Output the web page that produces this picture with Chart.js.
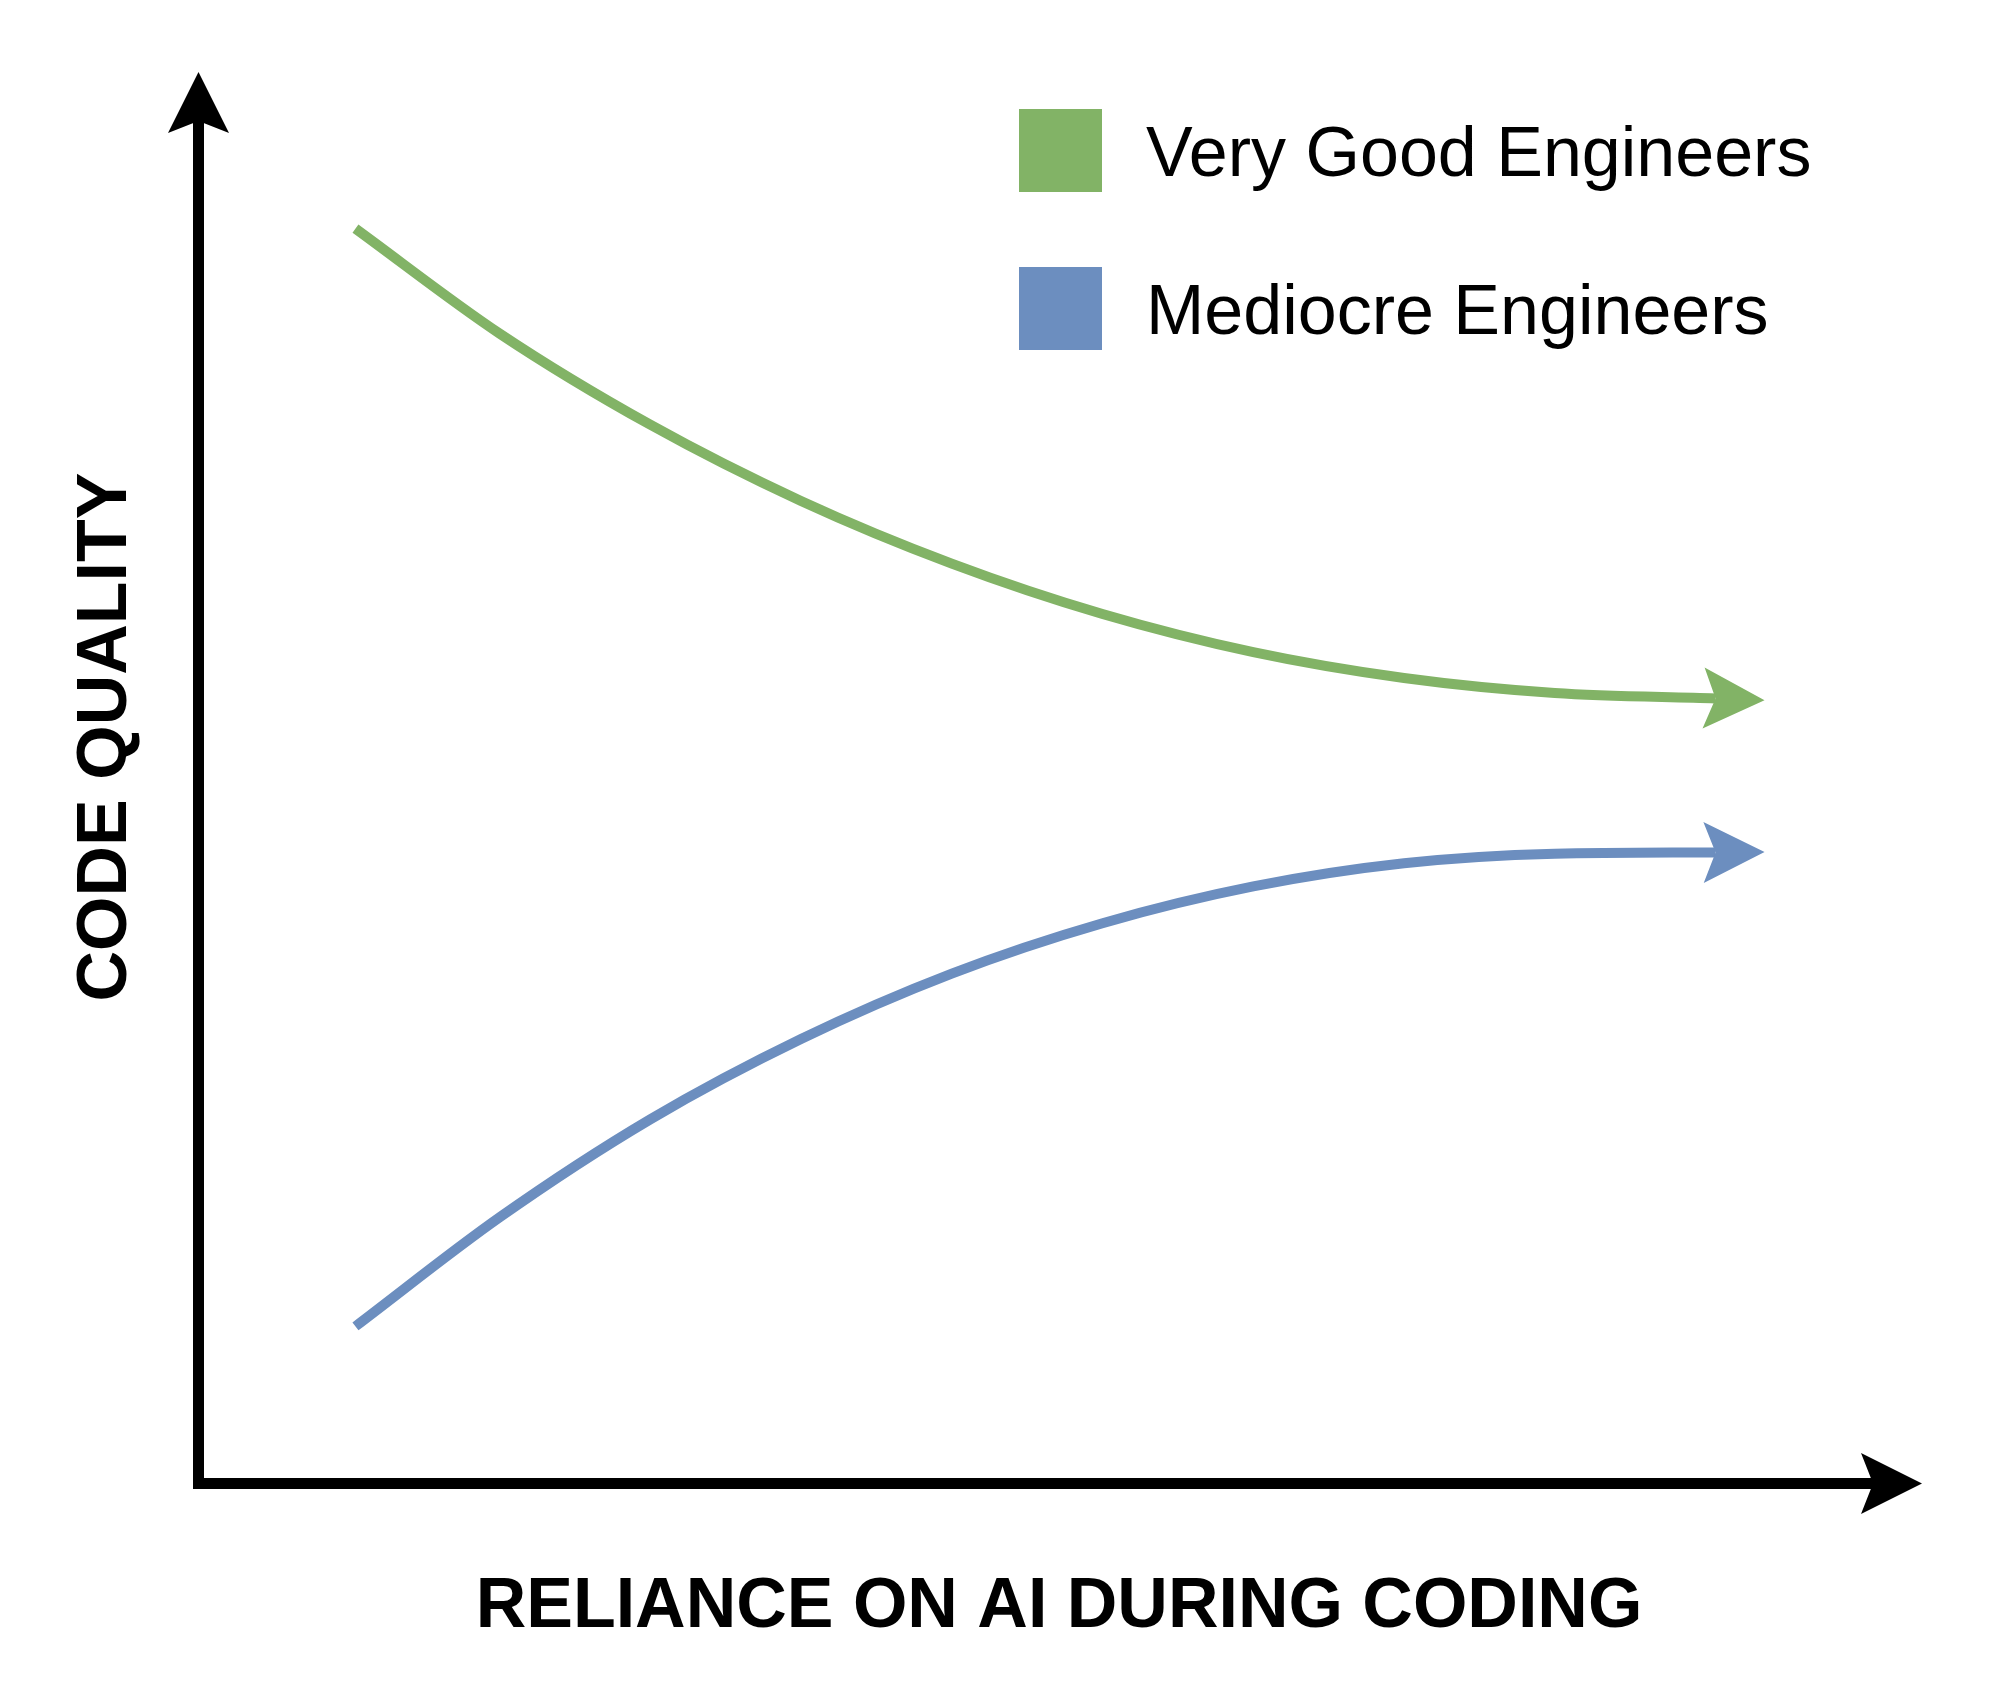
<!DOCTYPE html>
<html>
<head>
<meta charset="utf-8">
<title>Code quality vs reliance on AI</title>
<script src="https://cdn.jsdelivr.net/npm/chart.js@4.4.1/dist/chart.umd.min.js"></script>
<style>
    html, body { margin: 0; padding: 0; background: #ffffff; overflow: hidden; }
    #wrap { width: 1999px; height: 1702px; position: relative; }
</style>
</head>
<body>
<div id="wrap"><canvas id="qualityChart"></canvas></div>
<script>
// Reliance on AI (x) - arbitrary 0-100 scale
const relianceLevels = [9.4, 18, 27, 36, 45, 54, 63, 72, 81, 90.6];

// Code quality (y) - arbitrary 0-100 scale
const goodEngineerQuality = [92.1, 84.4, 77.7, 72.1, 67.5, 63.8, 61.0, 59.1, 58.0, 57.6];
const mediocreEngineerQuality = [11.5, 19.5, 26.7, 32.6, 37.4, 41.1, 43.8, 45.5, 46.2, 46.3];

const seriesNames = ['Very Good Engineers', 'Mediocre Engineers'];
const xAxisTitle = 'RELIANCE ON AI DURING CODING';
const yAxisTitle = 'CODE QUALITY';

const FONT = '"Liberation Sans", Arial, Helvetica, sans-serif';

// turn two arrays into {x, y} points
function toPoints(xs, ys) {
    return xs.map((x, i) => ({ x: x, y: ys[i] }));
}

// notched arrow head, the notch sits on (x, y), pointing along angle
function drawArrowHead(ctx, x, y, angle, color) {
    const fwd = 49, back = 12, half = 30.5;
    const dx = Math.cos(angle), dy = Math.sin(angle);
    const nx = -dy, ny = dx;
    ctx.save();
    ctx.fillStyle = color;
    ctx.beginPath();
    ctx.moveTo(x + dx * fwd, y + dy * fwd);
    ctx.lineTo(x - dx * back + nx * half, y - dy * back + ny * half);
    ctx.lineTo(x, y);
    ctx.lineTo(x - dx * back - nx * half, y - dy * back - ny * half);
    ctx.closePath();
    ctx.fill();
    ctx.restore();
}

// arrows, axis titles and legend
const decorPlugin = {
    id: 'decor',
    afterDraw(chart) {
        const ctx = chart.ctx;
        const area = chart.chartArea;

        // axis arrows
        drawArrowHead(ctx, area.left + 0.5, area.top, -Math.PI / 2, '#000000');
        drawArrowHead(ctx, area.right, area.bottom + 0.5, 0, '#000000');

        // arrow at the end of every curve, along the curve tangent
        chart.data.datasets.forEach((ds, i) => {
            const pts = chart.getDatasetMeta(i).data;
            const last = pts[pts.length - 1];
            let fromX = pts[pts.length - 2].x, fromY = pts[pts.length - 2].y;
            if (last.cp1x !== undefined && Math.abs(last.cp1x - last.x) > 1) {
                fromX = last.cp1x;
                fromY = last.cp1y;
            }
            const angle = Math.atan2(last.y - fromY, last.x - fromX);
            drawArrowHead(ctx, last.x, last.y, angle, ds.borderColor);
        });

        ctx.save();
        ctx.fillStyle = '#000000';

        // y axis title
        ctx.font = 'bold 70px ' + FONT;
        ctx.textAlign = 'center';
        ctx.textBaseline = 'alphabetic';
        ctx.save();
        ctx.translate(126, 737);
        ctx.rotate(-Math.PI / 2);
        ctx.fillText(yAxisTitle, 0, 0);
        ctx.restore();

        // x axis title
        ctx.fillText(xAxisTitle, 1059, 1627);

        // legend
        ctx.font = '70px ' + FONT;
        ctx.textAlign = 'left';
        chart.data.datasets.forEach((ds, i) => {
            const top = 109 + i * 158;
            ctx.fillStyle = ds.borderColor;
            ctx.fillRect(1019, top, 83, 83);
            ctx.fillStyle = '#000000';
            ctx.fillText(ds.label, 1146, top + 67);
        });
        ctx.restore();
    }
};

function initChart() {
    const ctx = document.getElementById('qualityChart').getContext('2d');

    new Chart(ctx, {
        type: 'line',
        data: {
            datasets: [
                {
                    label: seriesNames[0],
                    data: toPoints(relianceLevels, goodEngineerQuality),
                    borderColor: '#82b366',
                    borderWidth: 10,
                    cubicInterpolationMode: 'monotone',
                    pointRadius: 0,
                    fill: false
                },
                {
                    label: seriesNames[1],
                    data: toPoints(relianceLevels, mediocreEngineerQuality),
                    borderColor: '#6c8ebf',
                    borderWidth: 10,
                    cubicInterpolationMode: 'monotone',
                    pointRadius: 0,
                    fill: false
                }
            ]
        },
        options: {
            responsive: true,
            maintainAspectRatio: false,
            animation: false,
            events: [],
            layout: {
                padding: { left: 198, top: 121, right: 126, bottom: 219 }
            },
            plugins: {
                legend: { display: false },
                tooltip: { enabled: false },
                title: { display: false }
            },
            scales: {
                x: {
                    type: 'linear',
                    min: 0,
                    max: 100,
                    grid: { display: false, drawTicks: false },
                    ticks: { display: false },
                    border: { display: true, color: '#000000', width: 11 }
                },
                y: {
                    type: 'linear',
                    min: 0,
                    max: 100,
                    grid: { display: false, drawTicks: false },
                    ticks: { display: false },
                    border: { display: true, color: '#000000', width: 11 }
                }
            }
        },
        plugins: [decorPlugin]
    });
}

document.addEventListener('DOMContentLoaded', initChart);
</script>
</body>
</html>
